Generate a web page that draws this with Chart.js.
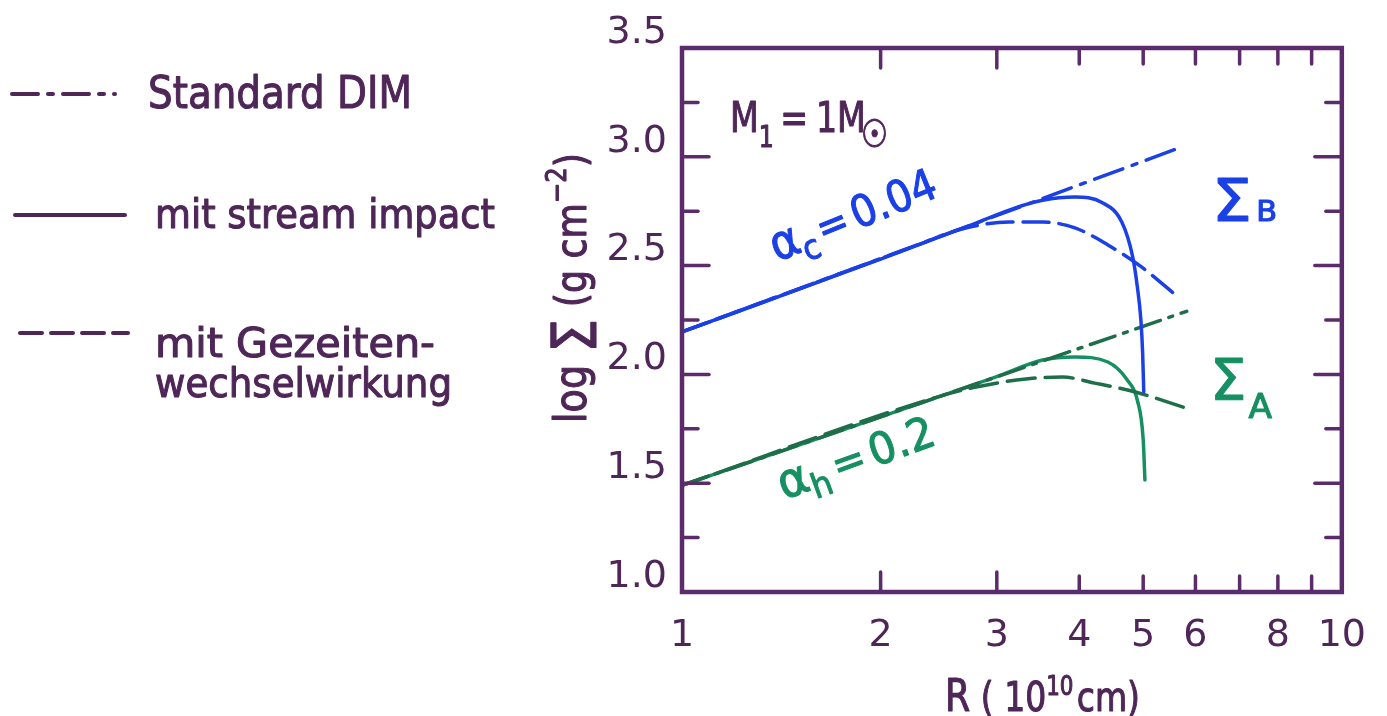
<!DOCTYPE html>
<html><head><meta charset="utf-8">
<script src="https://cdn.jsdelivr.net/npm/chart.js@4"></script>
<style>html,body{margin:0;padding:0;background:#fff;}canvas{display:block;}</style>
</head><body>
<canvas id="c" width="1387" height="716"></canvas>
<script>
// ---- data ----
const xTickValues = [1, 2, 3, 4, 5, 6, 7, 8, 9, 10];
const xTickLabels = [1, 2, 3, 4, 5, 6, 8, 10];
const yTickValues = [1.0, 1.25, 1.5, 1.75, 2.0, 2.25, 2.5, 2.75, 3.0, 3.25, 3.5];
const yTickLabels = ['1.0', '1.5', '2.0', '2.5', '3.0', '3.5'];

// Sigma_B (alpha_c = 0.04), blue
const blueDimR = [1, 5.66];
const blueDim = [2.195, 3.04];
const blueStreamR = [1, 2.0, 2.79, 3.2, 3.52, 3.94, 4.33, 4.64, 4.82, 4.90, 4.96, 4.99, 5.01];
const blueStream = [2.195, 2.53, 2.695, 2.765, 2.80, 2.815, 2.79, 2.70, 2.54, 2.40, 2.25, 2.10, 1.92];
const blueTidalR = [1, 2.3, 2.63, 3.13, 3.52, 3.94, 4.42, 4.97, 5.60];
const blueTidal = [2.195, 2.60, 2.665, 2.70, 2.70, 2.673, 2.595, 2.494, 2.365];

// Sigma_A (alpha_h = 0.2), green
const greenDimR = [1, 5.82];
const greenDim = [1.49, 2.29];
const greenStreamR = [1, 1.98, 3.0, 3.52, 3.94, 4.42, 4.73, 4.90, 5.0, 5.03];
const greenStream = [1.49, 1.80, 1.99, 2.066, 2.08, 2.057, 1.974, 1.88, 1.70, 1.515];
const greenTidalR = [1, 2.4, 2.79, 3.32, 3.77, 4.22, 4.85, 5.80];
const greenTidal = [1.49, 1.89, 1.942, 1.979, 1.988, 1.96, 1.92, 1.846];

// ---- styles ----
const FONT = "'DejaVu Sans', 'Noto Sans', sans-serif";
const PURPLE = '#4f2658';
const AXIS = '#5c2b6c';
const BLUE = '#1a40e6';
const GREEN = '#169062';
const GREEN_D = '#1f6e4a';
const DASHDOT = [30, 10, 5, 10];
const DASH = [26, 10];

const pts = (xs, ys) => xs.map((v, i) => ({ x: v, y: ys[i] }));
function ds(xs, ys, color, dash, w) {
  return { data: pts(xs, ys), borderColor: color, borderWidth: w || 3.5, borderDash: dash || [],
    pointRadius: 0, fill: false, cubicInterpolationMode: 'monotone', borderCapStyle: 'round' };
}

function drawRich(ctx, parts, x, y, angle, totalW, color) {
  ctx.save();
  ctx.translate(x, y);
  ctx.rotate(angle * Math.PI / 180);
  const widths = parts.map(p => { ctx.font = p.size + 'px ' + FONT; return ctx.measureText(p.t).width + (p.gap || 0); });
  const sum = widths.reduce((a, b) => a + b, 0);
  const sx = totalW ? totalW / sum : 1;
  ctx.scale(sx, 1);
  ctx.fillStyle = color;
  ctx.strokeStyle = color;
  ctx.lineWidth = 1.1;
  ctx.lineJoin = 'round';
  ctx.textBaseline = 'alphabetic';
  ctx.textAlign = 'left';
  let u = 0;
  parts.forEach((p, i) => {
    ctx.font = p.size + 'px ' + FONT;
    ctx.fillText(p.t, u, p.dy || 0);
    ctx.strokeText(p.t, u, p.dy || 0);
    u += widths[i];
  });
  ctx.restore();
}
function seg(ctx, x1, y1, x2, y2) { ctx.beginPath(); ctx.moveTo(x1, y1); ctx.lineTo(x2, y2); ctx.stroke(); }

const decor = {
  id: 'decor',
  beforeDraw(chart) {
    const c = chart.ctx; c.save(); c.fillStyle = '#ffffff'; c.fillRect(0, 0, chart.width, chart.height); c.restore();
  },
  afterDraw(chart) {
    const { ctx, chartArea: a, scales } = chart;
    const xs = scales.x, ys = scales.y;
    ctx.save();
    ctx.strokeStyle = AXIS; ctx.lineCap = 'round';
    ctx.lineWidth = 4.5;
    ctx.strokeRect(a.left, a.top, a.right - a.left, a.bottom - a.top);
    ctx.lineWidth = 3.5;
    ys.ticks.forEach(t => {
      if (t.value <= ys.min || t.value >= ys.max) return;
      const py = ys.getPixelForValue(t.value);
      const major = Math.abs(t.value * 2 - Math.round(t.value * 2)) < 1e-6;
      const L = major ? 27 : 16;
      seg(ctx, a.left, py, a.left + L, py);
      seg(ctx, a.right - L, py, a.right, py);
    });
    xs.ticks.forEach(t => {
      if (t.value <= xs.min || t.value >= xs.max) return;
      const px = xs.getPixelForValue(t.value);
      const L = t.value <= 3 ? 20 : 16;
      seg(ctx, px, a.bottom, px, a.bottom - L);
      seg(ctx, px, a.top, px, a.top + L);
    });

    // legend
    ctx.strokeStyle = PURPLE; ctx.lineWidth = 4;
    ctx.setLineDash([26, 10, 5, 10]); seg(ctx, 12, 94, 115, 94);
    ctx.setLineDash([]); seg(ctx, 15, 215, 125, 215);
    ctx.setLineDash([22, 9]); seg(ctx, 20, 333, 128, 333);
    ctx.setLineDash([]);
    drawRich(ctx, [{ t: 'Standard DIM', size: 44 }], 148, 108, 0, 264, PURPLE);
    drawRich(ctx, [{ t: 'mit stream impact', size: 40 }], 155, 228, 0, 340, PURPLE);
    drawRich(ctx, [{ t: 'mit Gezeiten-', size: 40 }], 155, 357, 0, 280, PURPLE);
    drawRich(ctx, [{ t: 'wechselwirkung', size: 40 }], 155, 397, 0, 297, PURPLE);

    // annotations
    drawRich(ctx, [{ t: 'M', size: 42 }, { t: '1', size: 30, dy: 15, gap: 8 }, { t: '=', size: 42, gap: 10 },
      { t: '1', size: 42 }, { t: 'M', size: 42, gap: -6 }, { t: '☉', size: 38, dy: 15 }], 730, 132, 0, 158, PURPLE);
    drawRich(ctx, [{ t: 'α', size: 48 }, { t: 'c', size: 34, dy: 11, gap: 4 }, { t: '=', size: 42, gap: 6 },
      { t: '0.04', size: 44 }], 777, 262, -22, 176, BLUE);
    drawRich(ctx, [{ t: 'α', size: 48 }, { t: 'h', size: 34, dy: 10, gap: 6 }, { t: '=', size: 42, gap: 6 },
      { t: '0.2', size: 44 }], 784, 500, -20, 164, GREEN);
    drawRich(ctx, [{ t: 'Σ', size: 58, gap: 4 }, { t: 'B', size: 28 }], 1212, 221, 0, 65, BLUE);
    drawRich(ctx, [{ t: 'Σ', size: 57, gap: 2 }, { t: 'A', size: 34, dy: 18 }], 1210, 400, 0, 62, GREEN);

    // axis titles
    drawRich(ctx, [{ t: 'log ', size: 44 }, { t: 'Σ', size: 62, dy: 10 }, { t: ' (g cm', size: 42 },
      { t: '−2', size: 28, dy: -20 }, { t: ')', size: 42 }], 586, 423, -90, 270, PURPLE);
    drawRich(ctx, [{ t: 'R', size: 44 }, { t: ' ( ', size: 40 }, { t: '10', size: 40 }, { t: '10', size: 26, dy: -16, gap: 4 },
      { t: 'cm)', size: 40 }], 945, 711, 0, 195, PURPLE);
    ctx.restore();
  }
};

new Chart(document.getElementById('c'), {
  type: 'line',
  data: {
    datasets: [
      ds(blueDimR, blueDim, BLUE, DASHDOT),
      ds(blueTidalR, blueTidal, BLUE, DASH),
      ds(blueStreamR, blueStream, BLUE, [], 3.5),
      ds(greenDimR, greenDim, GREEN_D, [26, 9, 4, 9]),
      ds(greenTidalR, greenTidal, GREEN_D, [28, 10]),
      ds(greenStreamR, greenStream, GREEN, [], 3.5)
    ]
  },
  options: {
    responsive: false, animation: false, devicePixelRatio: 1,
    layout: { padding: { left: 0, right: 37, top: 48, bottom: 0 } },
    plugins: { legend: { display: false }, tooltip: { enabled: false } },
    scales: {
      x: {
        type: 'logarithmic', min: 1, max: 10,
        afterBuildTicks: s => { s.ticks = xTickValues.map(v => ({ value: v })); },
        afterFit: s => { s.height = 124; },
        grid: { display: false, drawTicks: false }, border: { display: false },
        ticks: { autoSkip: false, maxRotation: 0, minRotation: 0, padding: 21, color: PURPLE,
          font: { family: FONT, size: 38 },
          callback: v => xTickLabels.includes(v) ? String(v) : '' }
      },
      y: {
        type: 'linear', min: 1, max: 3.5,
        afterBuildTicks: s => { s.ticks = yTickValues.map(v => ({ value: v })); },
        afterFit: s => { s.width = 682; },
        grid: { display: false, drawTicks: false }, border: { display: false },
        ticks: { autoSkip: false, padding: 15, labelOffset: -15, color: PURPLE,
          font: { family: FONT, size: 38 },
          callback: v => { const s = Number(v).toFixed(1); return (yTickLabels.includes(s) && Math.abs(v * 2 - Math.round(v * 2)) < 1e-6) ? s : ''; } }
      }
    }
  },
  plugins: [decor]
});
</script>
</body></html>
